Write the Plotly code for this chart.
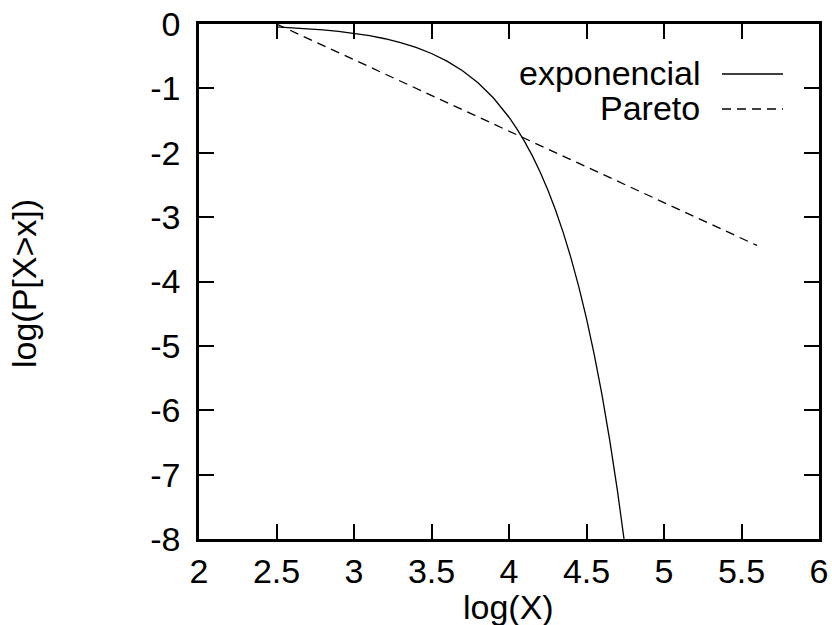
import plotly.graph_objects as go

# Exponential distribution CCDF (log-log)
exp_x = [2.50, 2.60, 2.70, 2.80, 2.90, 3.00, 3.10, 3.20, 3.30, 3.40, 3.50, 3.60,
         3.70, 3.80, 3.90, 4.00, 4.05, 4.10, 4.15, 4.20, 4.25, 4.30, 4.35, 4.40,
         4.45, 4.50, 4.55, 4.60, 4.65, 4.70, 4.74, 4.75]
exp_y = [-0.046, -0.058, -0.073, -0.091, -0.115, -0.145, -0.182, -0.229, -0.289,
         -0.364, -0.458, -0.576, -0.726, -0.913, -1.150, -1.448, -1.624, -1.823,
         -2.045, -2.294, -2.574, -2.889, -3.241, -3.636, -4.080, -4.578, -5.137,
         -5.763, -6.467, -7.256, -7.956, -8.141]

# Pareto distribution CCDF (straight line in log-log)
par_x = [2.5, 5.6]
par_y = [0.0, -3.44]

x_ticks = [2, 2.5, 3, 3.5, 4, 4.5, 5, 5.5, 6]
x_ticktext = ["2", "2.5", "3", "3.5", "4", "4.5", "5", "5.5", "6"]
y_ticks = [0, -1, -2, -3, -4, -5, -6, -7, -8]
y_ticktext = ["0", "-1", "-2", "-3", "-4", "-5", "-6", "-7", "-8"]

FONT = "Liberation Sans, Arial, sans-serif"
FS = 34

fig = go.Figure()
fig.add_trace(go.Scatter(x=exp_x, y=exp_y, mode="lines", name="exponencial",
                         line=dict(color="black", width=1.3), showlegend=False))
fig.add_trace(go.Scatter(x=par_x, y=par_y, mode="lines", name="Pareto",
                         line=dict(color="black", width=1.3, dash="9px,6px"),
                         showlegend=False))

axis_common = dict(showline=True, linecolor="black", linewidth=2.5, mirror="allticks",
                   ticks="inside", ticklen=15, tickwidth=2, tickcolor="black",
                   showgrid=False, zeroline=False, automargin=False,
                   tickfont=dict(family=FONT, size=FS, color="black"))

fig.update_xaxes(range=[2, 6], tickvals=x_ticks, ticktext=x_ticktext, **axis_common)
fig.update_yaxes(range=[-8, 0], tickvals=y_ticks, ticktext=y_ticktext,
                 ticklabelstandoff=9, **axis_common)

W, H = 832, 625
ml, mr, mt, mb = 199, 13, 24, 86
pw, ph = W - ml - mr, H - mt - mb

def px(x):
    return (x - ml) / pw

def py(y):
    return 1 - (y - mt) / ph

annotations = [
    dict(text="log(X)", x=px(508), y=py(607), xref="paper", yref="paper",
         showarrow=False, xanchor="center", yanchor="middle",
         font=dict(family=FONT, size=FS, color="black")),
    dict(text="log(P[X>x])", x=px(24), y=py(283), xref="paper", yref="paper",
         showarrow=False, xanchor="center", yanchor="middle", textangle=-90,
         font=dict(family=FONT, size=FS, color="black")),
]
legend_items = [("exponencial", 73, None), ("Pareto", 108, "9px,6px")]
shapes = []
for label, yy, dash in legend_items:
    annotations.append(dict(text=label, x=px(702), y=py(yy), xref="paper", yref="paper",
                            showarrow=False, xanchor="right", yanchor="middle",
                            font=dict(family=FONT, size=FS, color="black")))
    shapes.append(dict(type="line", xref="paper", yref="paper",
                       x0=px(722), x1=px(783), y0=py(yy + 1), y1=py(yy + 1),
                       line=dict(color="black", width=1.3, dash=dash)))

fig.update_layout(width=W, height=H, margin=dict(l=ml, r=mr, t=mt, b=mb),
                  paper_bgcolor="white", plot_bgcolor="white",
                  annotations=annotations, shapes=shapes,
                  font=dict(family=FONT, size=FS, color="black"))

fig.write_html("out.html")
